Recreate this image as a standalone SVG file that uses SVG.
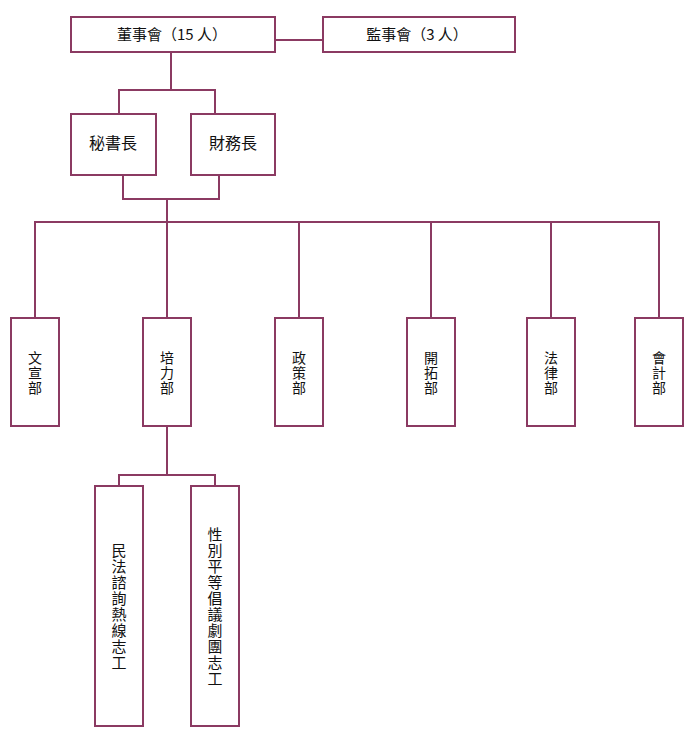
<svg xmlns="http://www.w3.org/2000/svg" width="697" height="739" viewBox="0 0 697 739">
<style>
.box{fill:#fff;stroke:#8b3a62;stroke-width:2}
.ln{fill:none;stroke:#8b3a62;stroke-width:2}
.t{font-family:"Noto Sans CJK TC","Noto Sans CJK SC",sans-serif;font-size:15px;fill:#111;text-anchor:middle}
.v{writing-mode:vertical-rl;font-size:14px;letter-spacing:1px}
.vl{writing-mode:vertical-rl;font-size:15px;letter-spacing:1px}
</style>
<rect width="697" height="739" fill="#fff"/>
<g id="connectors">
<path class="ln" d="M275 40H323"/>
<path class="ln" d="M171 52V90M119 114V90H215V114"/>
<path class="ln" d="M123 175V199H219V175M167 199V222"/>
<path class="ln" d="M35 318V222H659V318M167 222V318M299 222V318M431 222V318M551 222V318"/>
<path class="ln" d="M167 426V475M119 486V475H215V486"/>
</g>
<g id="n-board"><rect class="box" x="71" y="17" width="204" height="35"/><text class="t" x="172" y="40">董事會（15 人）</text></g>
<g id="n-supervisors"><rect class="box" x="323" y="17" width="192" height="35"/><text class="t" x="417" y="40">監事會（3 人）</text></g>
<g id="n-secretary"><rect class="box" x="71" y="114" width="85" height="61"/><text class="t" x="113" y="149" style="font-size:16px">秘書長</text></g>
<g id="n-treasurer"><rect class="box" x="191" y="114" width="84" height="61"/><text class="t" x="233" y="149" style="font-size:16px">財務長</text></g>
<g id="n-publicity"><rect class="box" x="11" y="318" width="48" height="108"/><text class="t v" x="35" y="373">文宣部</text></g>
<g id="n-training"><rect class="box" x="143" y="318" width="48" height="108"/><text class="t v" x="167" y="373">培力部</text></g>
<g id="n-policy"><rect class="box" x="275" y="318" width="48" height="108"/><text class="t v" x="299" y="373">政策部</text></g>
<g id="n-outreach"><rect class="box" x="407" y="318" width="48" height="108"/><text class="t v" x="431" y="373">開拓部</text></g>
<g id="n-legal"><rect class="box" x="527" y="318" width="48" height="108"/><text class="t v" x="551" y="373">法律部</text></g>
<g id="n-accounting"><rect class="box" x="635" y="318" width="48" height="108"/><text class="t v" x="659" y="373">會計部</text></g>
<g id="n-hotline"><rect class="box" x="95" y="486" width="48" height="240"/><text class="t vl" x="119" y="607">民法諮詢熱線志工</text></g>
<g id="n-theatre"><rect class="box" x="191" y="486" width="48" height="240"/><text class="t vl" x="215" y="607">性別平等倡議劇團志工</text></g>
</svg>
